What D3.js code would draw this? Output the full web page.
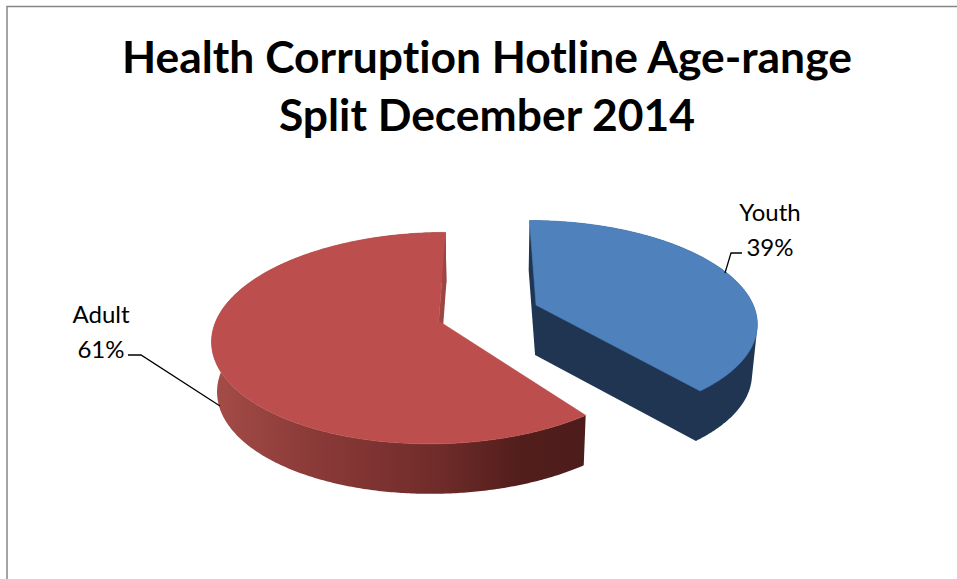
<!DOCTYPE html>
<html>
<head>
<meta charset="utf-8">
<script src="https://cdn.jsdelivr.net/npm/d3@7"></script>
<style>
  html, body { margin: 0; padding: 0; background: #fff; }
  svg { display: block; }
  text { font-family: Lato, "Open Sans", sans-serif; fill: #000; font-variant-ligatures: none; }
</style>
</head>
<body>
<svg id="chart" width="957" height="579"></svg>
<script>
const categories = ['Youth', 'Adult'];
const shares = [39, 61];
const titleLines = ['Health Corruption Hotline Age-range', 'Split December 2014'];

const topColors = { Youth: '#4f81bd', Adult: '#bc4f4d' };
const sideColors = { Youth: '#1f3552', Adult: '#9c4643' };

// 3d look: disc plane through a simple perspective, slices pulled out along their bisector
const view = { cx: 488, cy: 313, f: 220, a: 100.4, p: 0.159, explode: 0.235, depth: 50, shrink: 0.98 };
// the adult cut sits a little further round than the share gives in the original render
const startTrim = { Youth: 0, Adult: 2.5 * Math.PI / 180 };

function project(u, v, lower) {
  const w = 1 - view.p * v;
  const x = view.f * u / w;
  const y = view.a * v / w;
  return lower
    ? [view.cx + x * view.shrink, view.cy + y + view.depth]
    : [view.cx + x, view.cy + y];
}

const svg = d3.select('#chart');
const line = d3.line();

// frame
svg.append('path')
  .attr('d', 'M7,579V6.5H957')
  .attr('fill', 'none')
  .attr('stroke', '#868686')
  .attr('stroke-width', 1.5);

const gradient = svg.append('defs').append('linearGradient')
  .attr('id', 'adultWall')
  .attr('gradientUnits', 'userSpaceOnUse')
  .attr('x1', 213).attr('x2', 587).attr('y1', 0).attr('y2', 0);
[[0, '#a44c48'], [0.25, '#8c3b39'], [0.6, '#702c2a'], [0.82, '#521e1c'], [1, '#4c1c1b']]
  .forEach(s => gradient.append('stop').attr('offset', s[0]).attr('stop-color', s[1]));

const pie = d3.pie().sort(null).value(d => d.share);
const slices = pie(categories.map((name, i) => ({ name, share: shares[i] })));

const g = svg.append('g');

slices.forEach(s => {
  const mid = (s.startAngle + s.endAngle) / 2;
  const ou = Math.sin(mid) * view.explode;
  const ov = -Math.cos(mid) * view.explode;
  const name = s.data.name;
  const angles = d3.range(s.startAngle + startTrim[name], s.endAngle, 0.01).concat([s.endAngle]);
  const rim = angles.map(t => [ou + Math.sin(t), ov - Math.cos(t)]);
  const upper = rim.map(p => project(p[0], p[1], false));
  const lower = rim.map(p => project(p[0], p[1], true));
  const apexUp = project(ou, ov, false);
  const apexLow = project(ou, ov, true);

  if (name === 'Youth') {
    // convex slice: one silhouette covers the walls and both cut faces, no seams
    g.append('path')
      .attr('d', line(d3.polygonHull(upper.concat(lower, [apexUp, apexLow]))) + 'Z')
      .attr('fill', sideColors[name]);
  } else {
    g.append('path')
      .attr('d', line(upper.concat(lower.slice().reverse())) + 'Z')
      .attr('fill', 'url(#adultWall)');
    g.append('path')
      .attr('d', line([upper[upper.length - 1], apexUp, apexLow, lower[lower.length - 1]]) + 'Z')
      .attr('fill', sideColors[name]);
  }
  // top face
  g.append('path')
    .attr('d', line([apexUp].concat(upper)) + 'Z')
    .attr('fill', topColors[name])
    .attr('stroke', topColors[name])
    .attr('stroke-width', 0.6);
});

// title
svg.append('g').selectAll('text').data(titleLines).join('text')
  .attr('x', 487)
  .attr('y', (d, i) => 73 + i * 58)
  .attr('text-anchor', 'middle')
  .attr('font-size', 44.4)
  .attr('font-weight', 700)
  .text(d => d);

// labels
const labelSpots = {
  Youth: { x: 770, y: 221, leader: [[742, 253], [731, 253], [725, 273]] },
  Adult: { x: 101, y: 323, leader: [[128, 355], [141, 355], [220, 406]] }
};
slices.forEach(s => {
  const spot = labelSpots[s.data.name];
  svg.append('text').attr('x', spot.x).attr('y', spot.y)
    .attr('text-anchor', 'middle').attr('font-size', 24).text(s.data.name);
  svg.append('text').attr('x', spot.x).attr('y', spot.y + 35)
    .attr('text-anchor', 'middle').attr('font-size', 24).text(s.data.share + '%');
  svg.append('path').attr('d', line(spot.leader))
    .attr('fill', 'none').attr('stroke', '#000').attr('stroke-width', 1.3);
});
</script>
</body>
</html>
